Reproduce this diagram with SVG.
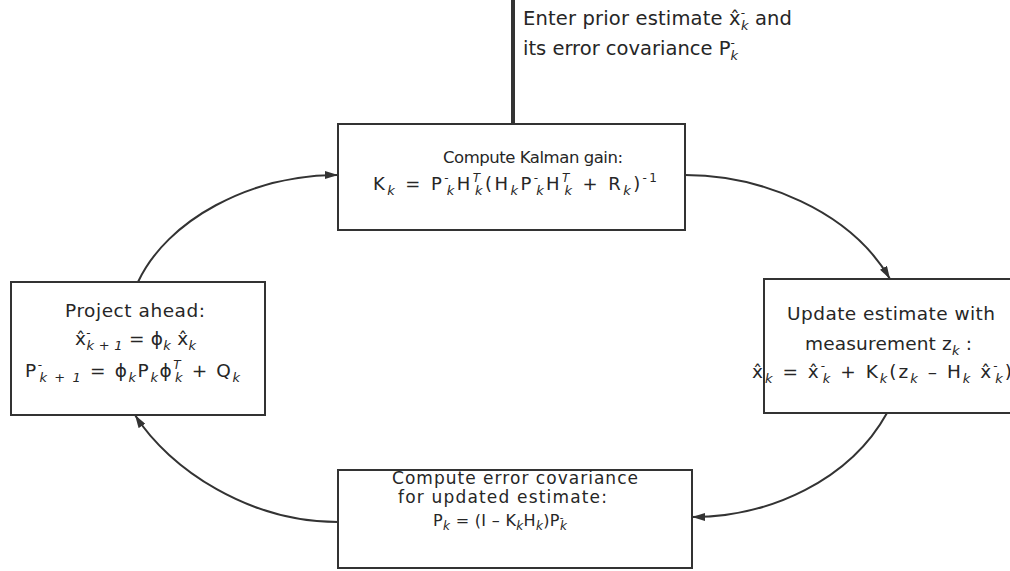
<svg xmlns="http://www.w3.org/2000/svg" width="1010" height="571" viewBox="0 0 1010 571">
<style>
text { font-family: "DejaVu Sans", "Liberation Sans", sans-serif; fill: #262626; }
.box { fill: #ffffff; stroke: #333333; stroke-width: 2; }
.conn { fill: none; stroke: #333333; stroke-width: 2; }
.sb { font-size: 13px; font-style: italic; baseline-shift: -5px; }
.sp { font-size: 12px; baseline-shift: 8px; }
.sb2 { font-size: 12px; font-style: italic; baseline-shift: -4px; }
.sp2 { font-size: 10px; baseline-shift: 5px; }
.it { font-style: italic; }
</style>
<defs>
<marker id="ah" viewBox="0 0 13 8" refX="13" refY="4" markerWidth="13" markerHeight="8" markerUnits="userSpaceOnUse" orient="auto">
<path d="M0,0 L13,4 L0,8 z" fill="#333333"/>
</marker>
</defs>
<rect x="0" y="0" width="1010" height="571" fill="#ffffff"/>

<g id="connectors">
<line x1="513" y1="0" x2="513" y2="123" stroke="#333333" stroke-width="4"/>
<path class="conn" d="M685,175 C760,175 850,210 890,279" marker-end="url(#ah)"/>
<path class="conn" d="M887,413 C850,480 770,517 692,517" marker-end="url(#ah)"/>
<path class="conn" d="M338,522 C250,522 170,470 135,415" marker-end="url(#ah)"/>
<path class="conn" d="M138,282 C167,220 250,175 338,175" marker-end="url(#ah)"/>
</g>

<g id="entry-label">
<text x="523" y="25" font-size="19.5" textLength="269" lengthAdjust="spacing">Enter prior estimate x̂<tspan class="sp">-</tspan><tspan class="sb" dx="-4.3">k</tspan> and</text>
<text x="523" y="55" font-size="19.5" textLength="215" lengthAdjust="spacing">its error covariance P<tspan class="sp">-</tspan><tspan class="sb" dx="-4.3">k</tspan></text>
</g>

<g id="node-gain">
<rect class="box" x="338" y="124" width="347" height="106"/>
<text x="443" y="163" font-size="16.5" textLength="180" lengthAdjust="spacing">Compute Kalman gain:</text>
<text x="373" y="190" font-size="18" textLength="284" lengthAdjust="spacing">K<tspan class="sb">k</tspan> = P<tspan class="sp">-</tspan><tspan class="sb" dx="-4.3">k</tspan>H<tspan class="sp it">T</tspan><tspan class="sb" dx="-7.3">k</tspan>(H<tspan class="sb">k</tspan>P<tspan class="sp">-</tspan><tspan class="sb" dx="-4.3">k</tspan>H<tspan class="sp it">T</tspan><tspan class="sb" dx="-7.3">k</tspan> + R<tspan class="sb">k</tspan>)<tspan class="sp">-1</tspan></text>
</g>

<g id="node-project">
<rect class="box" x="11" y="282" width="254" height="133"/>
<text x="65" y="317" font-size="18.5" textLength="140" lengthAdjust="spacing">Project ahead:</text>
<text x="75" y="345" font-size="18.5" textLength="121" lengthAdjust="spacing">x̂<tspan class="sp">-</tspan><tspan class="sb" dx="-4.3">k + 1</tspan> = ϕ<tspan class="sb">k</tspan> x̂<tspan class="sb">k</tspan></text>
<text x="25" y="377" font-size="18.5" textLength="215" lengthAdjust="spacing">P<tspan class="sp">-</tspan><tspan class="sb" dx="-4.3">k + 1</tspan> = ϕ<tspan class="sb">k</tspan>P<tspan class="sb">k</tspan>ϕ<tspan class="sp it">T</tspan><tspan class="sb" dx="-7.3">k</tspan> + Q<tspan class="sb">k</tspan></text>
</g>

<g id="node-update">
<rect class="box" x="764" y="279" width="260" height="134"/>
<text x="787" y="320" font-size="18.5" textLength="208" lengthAdjust="spacing">Update estimate with</text>
<text x="805" y="350" font-size="18.5" textLength="167" lengthAdjust="spacing">measurement z<tspan class="sb">k</tspan> :</text>
<text x="752" y="378" font-size="18.5" textLength="260" lengthAdjust="spacing">x̂<tspan class="sb">k</tspan> = x̂<tspan class="sp">-</tspan><tspan class="sb" dx="-4.3">k</tspan> + K<tspan class="sb">k</tspan>(z<tspan class="sb">k</tspan> – H<tspan class="sb">k</tspan> x̂<tspan class="sp">-</tspan><tspan class="sb" dx="-4.3">k</tspan>)</text>
</g>

<g id="node-covariance">
<rect class="box" x="338" y="470" width="354" height="98"/>
<text x="392" y="484" font-size="17" textLength="246" lengthAdjust="spacing">Compute error covariance</text>
<text x="398" y="502.5" font-size="17" textLength="209" lengthAdjust="spacing">for updated estimate:</text>
<text x="433" y="526" font-size="16" textLength="134" lengthAdjust="spacing">P<tspan class="sb2">k</tspan> = (I – K<tspan class="sb2">k</tspan>H<tspan class="sb2">k</tspan>)P<tspan class="sp2">-</tspan><tspan class="sb2" dx="-3.6">k</tspan></text>
</g>
</svg>
